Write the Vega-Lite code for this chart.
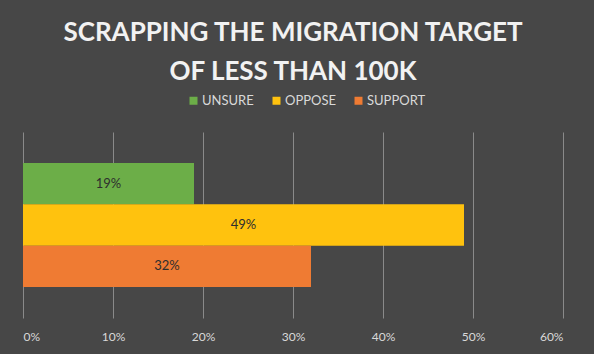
{
  "$schema": "https://vega.github.io/schema/vega-lite/v6.json",
  "width": 540,
  "height": 186,
  "autosize": {"type": "none"},
  "padding": {"left": 23, "top": 132, "right": 31, "bottom": 36},
  "background": "#474747",
  "title": {
    "text": ["SCRAPPING THE MIGRATION TARGET", "OF LESS THAN 100K"],
    "font": "Lato",
    "fontSize": 26,
    "fontWeight": "bold",
    "color": "#f2f2f2",
    "anchor": "middle",
    "lineHeight": 39,
    "offset": 9
  },
  "data": {
    "values": [
      {"response": "UNSURE", "share": 0.19},
      {"response": "OPPOSE", "share": 0.49},
      {"response": "SUPPORT", "share": 0.32}
    ]
  },
  "encoding": {
    "y": {
      "field": "response",
      "type": "nominal",
      "sort": ["UNSURE", "OPPOSE", "SUPPORT"],
      "scale": {"paddingInner": 0, "paddingOuter": 0.75},
      "axis": null
    }
  },
  "layer": [
    {
      "mark": {"type": "bar"},
      "encoding": {
        "x": {
          "field": "share",
          "type": "quantitative",
          "scale": {"domain": [0, 0.6], "nice": false},
          "axis": {
            "values": [0, 0.1, 0.2, 0.3, 0.4, 0.5, 0.6],
            "format": ".0%",
            "title": null,
            "grid": true,
            "gridColor": "#8a8a8a",
            "gridWidth": 1,
            "domain": false,
            "ticks": false,
            "labelColor": "#d9d9d9",
            "labelFont": "Lato",
            "labelFontSize": 12,
            "labelPadding": 13
          }
        },
        "color": {
          "field": "response",
          "type": "nominal",
          "sort": ["UNSURE", "OPPOSE", "SUPPORT"],
          "scale": {"domain": ["UNSURE", "OPPOSE", "SUPPORT"], "range": ["#6cae48", "#ffc20e", "#ef7b33"]},
          "legend": {
            "title": null,
            "orient": "none",
            "legendX": 164,
            "legendY": -38,
            "direction": "horizontal",
            "symbolType": "square",
            "symbolSize": 64,
            "symbolStrokeWidth": 0,
            "labelColor": "#d9d9d9",
            "labelFont": "Lato",
            "labelFontSize": 13,
            "labelOffset": 2,
            "columnPadding": 16
          }
        }
      }
    },
    {
      "mark": {"type": "text", "font": "Lato", "fontSize": 13, "color": "#2e2e2e"},
      "encoding": {
        "x": {
          "field": "share",
          "type": "quantitative",
          "scale": {"domain": [0, 1.2], "nice": false},
          "axis": null
        },
        "text": {"field": "share", "type": "quantitative", "format": ".0%"}
      }
    }
  ],
  "resolve": {"scale": {"x": "independent"}},
  "config": {"view": {"stroke": null}}
}
